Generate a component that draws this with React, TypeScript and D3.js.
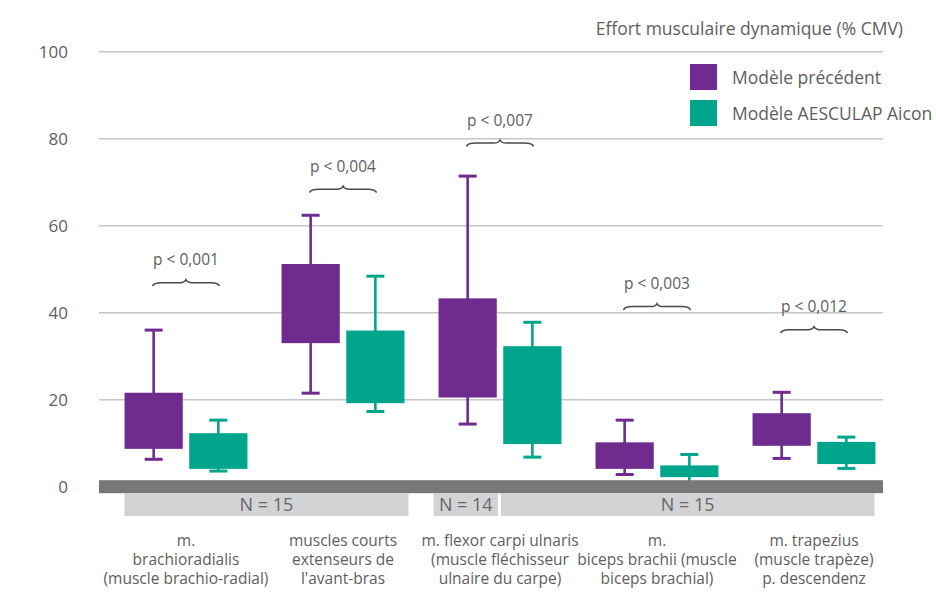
import React from "react";
import * as d3 from "d3";

const categories = [
  ["m.", "brachioradialis", "(muscle brachio-radial)"],
  ["muscles courts", "extenseurs de", "l'avant-bras"],
  ["m. flexor carpi ulnaris", "(muscle fléchisseur", "ulnaire du carpe)"],
  ["m.", "biceps brachii (muscle", "biceps brachial)"],
  ["m. trapezius", "(muscle trapèze)", "p. descendenz"],
];
const seriesNames = ["Modèle précédent", "Modèle AESCULAP Aicon"];
const seriesColors = ["#6f2c8e", "#00a58c"];

// [min, q1, q3, max] per muscle
const previousModel = [
  [6.3, 8.7, 21.6, 36],
  [21.5, 33, 51.2, 62.4],
  [14.4, 20.5, 43.3, 71.4],
  [2.8, 4.1, 10.2, 15.3],
  [6.5, 9.4, 16.9, 21.7],
];
const aesculapModel = [
  [3.6, 4.1, 12.3, 15.3],
  [17.3, 19.2, 35.9, 48.4],
  [6.8, 9.8, 32.3, 37.8],
  [0.6, 2.2, 4.9, 7.4],
  [4.2, 5.2, 10.3, 11.4],
];
const pLabels = ["p < 0,001", "p < 0,004", "p < 0,007", "p < 0,003", "p < 0,012"];
const pLevels = [46.1, 67.6, 78.2, 40.6, 35.3];
const yTicks = [0, 20, 40, 60, 80, 100];
// N label, first [group, series], last [group, series]
const nLabels = ["N = 15", "N = 14", "N = 15"];
const nFrom = [[0, 0], [2, 0], [2, 1]];
const nTo = [[1, 1], [2, 0], [4, 1]];

const W = 936;
const H = 593;
const FONT = "'Open Sans', 'Noto Sans', sans-serif";
const TEXT = "#5e5e5e";

export default function App() {
  const y = d3.scaleLinear().domain([0, 100]).range([486.7, 51.7]);
  const x = d3
    .scaleBand<number>()
    .domain(d3.range(categories.length))
    .range([107.5, 892.5])
    .paddingInner(0.217)
    .paddingOuter(0.1085);
  const xs = d3.scaleBand<number>().domain([0, 1]).range([0, x.bandwidth()]).paddingInner(0.1);
  const bw = xs.bandwidth();
  const series = [previousModel, aesculapModel];

  const gridX0 = 99;
  const gridX1 = 883;

  // horizontal curly brace, opening downward, tip up
  const brace = (cx: number, y0: number) => {
    const p = d3.path();
    const hw = 33.5;
    p.moveTo(cx - hw, y0);
    p.quadraticCurveTo(cx - hw + 1, y0 - 3.5, cx - hw + 9, y0 - 3.5);
    p.lineTo(cx - 6, y0 - 3.5);
    p.quadraticCurveTo(cx - 1.5, y0 - 3.5, cx, y0 - 6.5);
    p.quadraticCurveTo(cx + 1.5, y0 - 3.5, cx + 6, y0 - 3.5);
    p.lineTo(cx + hw - 9, y0 - 3.5);
    p.quadraticCurveTo(cx + hw - 1, y0 - 3.5, cx + hw, y0);
    return p.toString();
  };

  // N segments: inner edges widened, adjacent segments split at midpoint
  const last = nLabels.length - 1;
  const segs = nLabels.map((label, i) => ({
    label,
    x0: (x(nFrom[i][0]) as number) + (xs(nFrom[i][1]) as number) - (i === 0 ? 0 : 5),
    x1: (x(nTo[i][0]) as number) + (xs(nTo[i][1]) as number) + bw + (i === last ? -1 : 4),
  }));
  for (let i = 1; i < segs.length; i++) {
    if (segs[i].x0 - segs[i - 1].x1 < 10) {
      const m = (segs[i].x0 + segs[i - 1].x1) / 2;
      segs[i - 1].x1 = m - 1.5;
      segs[i].x0 = m + 1.5;
    }
  }

  return (
    <div style={{ position: "absolute", left: 0, top: 0 }}>
      <svg width={W} height={H} style={{ display: "block", background: "#fff" }} fontFamily={FONT}>
        {/* title */}
        <text x={903} y={35} textAnchor="end" fontSize={17.5} fill={TEXT}>
          Effort musculaire dynamique (% CMV)
        </text>

        {/* grid + y ticks */}
        {yTicks.map((t) => (
          <g key={t}>
            {t > 0 && (
              <line x1={gridX0} x2={gridX1} y1={y(t)} y2={y(t)} stroke="#c6c6c6" strokeWidth={1.5} />
            )}
            <text x={68} y={y(t)} dy="0.36em" textAnchor="end" fontSize={17} fill={TEXT}>
              {t}
            </text>
          </g>
        ))}

        {/* legend */}
        {seriesNames.map((s, i) => (
          <g key={s} transform={`translate(690, ${64 + i * 36})`}>
            <rect width={27} height={26} fill={seriesColors[i]} />
            <text x={42} y={20} fontSize={17.5} fill={TEXT}>
              {s}
            </text>
          </g>
        ))}

        {/* boxes */}
        {categories.map((_, g) => (
          <g key={g} transform={`translate(${x(g)}, 0)`}>
            {series.map((data, s) => {
              const [mn, q1, q3, mx] = data[g];
              const bx = xs(s) as number;
              const cx = bx + bw / 2;
              const col = seriesColors[s];
              return (
                <g key={s}>
                  <line x1={cx} x2={cx} y1={y(mx)} y2={y(mn)} stroke={col} strokeWidth={2.6} />
                  <line x1={cx - 9} x2={cx + 9} y1={y(mx)} y2={y(mx)} stroke={col} strokeWidth={3} />
                  <line x1={cx - 9} x2={cx + 9} y1={y(mn)} y2={y(mn)} stroke={col} strokeWidth={3} />
                  <rect x={bx} y={y(q3)} width={bw} height={y(q1) - y(q3)} fill={col} />
                </g>
              );
            })}
          </g>
        ))}

        {/* zero bar */}
        <rect x={gridX0} y={y(0) - 6.5} width={gridX1 - gridX0} height={13} fill="#787878" />

        {/* N segments */}
        {segs.map((s, i) => (
          <g key={i}>
            <rect x={s.x0} y={493} width={s.x1 - s.x0} height={23} fill="#d2d3d5" />
            <text x={(s.x0 + s.x1) / 2} y={511} textAnchor="middle" fontSize={18} fill="#666">
              {s.label}
            </text>
          </g>
        ))}

        {/* p-values with braces */}
        {pLabels.map((p, g) => {
          const cx = (x(g) as number) + x.bandwidth() / 2;
          const by = y(pLevels[g]);
          return (
            <g key={p + g}>
              <text x={cx} y={by - 21} textAnchor="middle" fontSize={15.5} fill={TEXT}>
                {p}
              </text>
              <path d={brace(cx, by)} fill="none" stroke="#4a4a4a" strokeWidth={1.5} />
            </g>
          );
        })}

        {/* category labels, one text per line */}
        {categories.map((lines, g) =>
          lines.map((l, j) => (
            <text
              key={g + "-" + j}
              x={(x(g) as number) + x.bandwidth() / 2}
              y={546 + j * 18.8}
              textAnchor="middle"
              fontSize={15.5}
              fill={TEXT}
            >
              {l}
            </text>
          ))
        )}
      </svg>
    </div>
  );
}
